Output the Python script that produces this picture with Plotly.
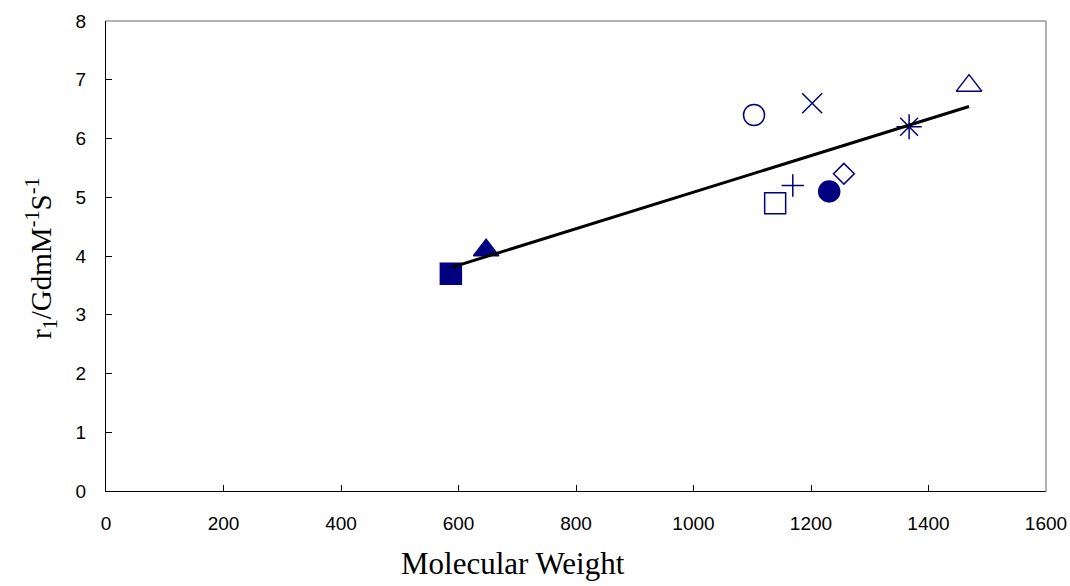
import numpy as np
import plotly.graph_objects as go

# Data
mol_weight = [587, 647, 1103, 1202, 1367, 1469, 1256, 1231, 1169, 1139]
r1_values = [3.7, 4.1, 6.4, 6.6, 6.2, 6.9, 5.4, 5.1, 5.2, 4.9]
symbols = ["square", "triangle-up", "circle-open", "x-thin-open", "asterisk-open",
           "triangle-up-open", "diamond-open", "circle", "cross-thin-open", "square-open"]
sizes = [21, 22, 21, 20, 21, 22, 16, 21, 16, 21]

x_ticks = [0, 200, 400, 600, 800, 1000, 1200, 1400, 1600]
y_ticks = [0, 1, 2, 3, 4, 5, 6, 7, 8]

navy = "#000080"

fig = go.Figure()
for x, y, s, sz in zip(mol_weight, r1_values, symbols, sizes):
    fig.add_trace(go.Scatter(
        x=[x], y=[y], mode="markers",
        marker=dict(symbol=s, size=sz, color=navy, line=dict(color=navy, width=1.5)),
        showlegend=False, hoverinfo="x+y"))

# linear trend line
slope, intercept = np.polyfit(mol_weight, r1_values, 1)
xl = np.array([min(mol_weight), max(mol_weight)])
fig.add_trace(go.Scatter(x=xl, y=slope * xl + intercept, mode="lines",
                         line=dict(color="black", width=3), showlegend=False))

serif = "Liberation Serif, Times New Roman"
fig.update_layout(
    width=1070, height=586,
    margin=dict(l=106, r=24, t=21, b=95),
    plot_bgcolor="white", paper_bgcolor="white",
    font=dict(family="Liberation Sans, Arial", size=19, color="black"),
    xaxis=dict(range=[0, 1600], tickvals=x_ticks, ticks="inside", ticklen=6,
               tickcolor="black", showline=True, linecolor="black", linewidth=1,
               showgrid=False, zeroline=False, ticklabelstandoff=15,
               automargin=False, tickfont=dict(size=19)),
    yaxis=dict(range=[0, 8], tickvals=y_ticks, ticks="inside", ticklen=6,
               tickcolor="black", showline=True, linecolor="black", linewidth=1,
               showgrid=False, zeroline=False, ticklabelstandoff=15,
               automargin=False, tickfont=dict(size=19)),
    shapes=[
        dict(type="line", xref="paper", yref="paper", x0=0, x1=1, y0=1, y1=1,
             line=dict(color="#999999", width=1.5)),
        dict(type="line", xref="paper", yref="paper", x0=1, x1=1, y0=0, y1=1,
             line=dict(color="#999999", width=1.5)),
    ],
    annotations=[
        dict(text="Molecular Weight", xref="paper", yref="paper",
             x=(513 - 106) / 940, y=-(563 - 491) / 470, xanchor="center", yanchor="middle",
             showarrow=False, font=dict(family=serif, size=31)),
        dict(text="r<sub>1</sub>/GdmM<sup>-1</sup>S<sup>-1</sup>", xref="paper", yref="paper",
             x=-(106 - 41) / 940, y=(491 - 258) / 470, xanchor="center", yanchor="middle",
             textangle=-90, showarrow=False, font=dict(family=serif, size=29)),
    ],
)

fig.write_html("out.html", config={"displayModeBar": False},
               post_script="document.body.style.margin='0';document.body.style.overflow='hidden';")
